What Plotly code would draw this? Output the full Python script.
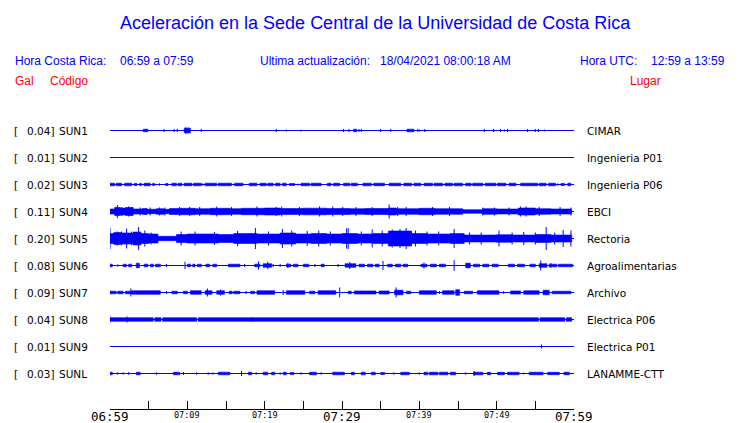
import plotly.graph_objects as go

# ---------------- data ----------------
CODES = ["SUN1", "SUN2", "SUN3", "SUN4", "SUN5", "SUN6", "SUN7", "SUN8", "SUN9", "SUNL"]
PEAKS_GAL = ["0.04", "0.01", "0.02", "0.11", "0.20", "0.08", "0.09", "0.04", "0.01", "0.03"]
PLACES = ["CIMAR", "Ingenieria P01", "Ingenieria P06", "EBCI", "Rectoria",
          "Agroalimentarias", "Archivo", "Electrica P06", "Electrica P01", "LANAMME-CTT"]

TICK_MINUTES = [0, 5, 10, 15, 20, 25, 30, 35, 40, 45, 50, 55, 60]
LABEL_MINUTES = [0, 10, 20, 30, 40, 50, 60]
LABEL_TEXTS = ["06:59", "07:09", "07:19", "07:29", "07:39", "07:49", "07:59"]
LABEL_MAJOR = [True, False, False, True, False, False, True]

# bursts: (start minute, end minute, half amplitude in px of trace)
SUN1_BURSTS = [(4.3, 4.9, 1.3), (9.6, 10.4, 2.3), (31.5, 31.9, 1.3), (38.4, 39.3, 1.3)]
SUN1_SPIKES = [(7.0, 1.5), (8.3, 1.5), (8.7, 1.5), (9.8, 3.3), (10.1, 3.0), (11.8, 1.5),
               (21.5, 1.5), (22.8, 1.0), (24.7, 1.0), (30.2, 1.5), (30.9, 1.5), (32.2, 1.5),
               (32.5, 1.5), (35.0, 1.5), (36.3, 1.5), (39.8, 1.5), (40.0, 1.0), (40.7, 1.5),
               (48.4, 1.5), (49.6, 1.5), (50.5, 1.5), (51.0, 1.0), (51.4, 1.5), (54.0, 1.5),
               (55.0, 1.5), (55.4, 1.5), (56.2, 1.0)]

SUN2_BURSTS = []
SUN2_SPIKES = []

SUN3_BURSTS = [(0.0, 0.6, 1.3), (0.8, 1.5, 1.3), (1.9, 2.8, 1.3), (3.1, 3.5, 1.0), (3.8, 4.1, 1.0),
               (4.4, 5.2, 1.3), (5.5, 5.8, 1.0), (7.2, 7.5, 1.0), (8.0, 8.6, 1.3), (8.8, 9.3, 1.3),
               (9.6, 10.6, 1.3), (10.8, 11.8, 1.3), (12.3, 13.8, 1.3), (14.0, 15.7, 1.3),
               (16.1, 17.2, 1.3), (18.0, 19.0, 1.3), (19.4, 20.2, 1.3), (20.4, 21.1, 1.3),
               (21.4, 22.0, 1.3), (22.3, 22.8, 1.3), (23.2, 23.9, 1.0), (24.7, 25.8, 1.3),
               (26.0, 27.3, 1.3), (28.1, 28.6, 1.3), (28.9, 29.7, 1.3), (30.2, 31.0, 1.3),
               (31.2, 32.0, 1.3), (32.7, 33.8, 1.3), (34.1, 35.5, 1.3), (36.1, 37.6, 1.3),
               (38.0, 39.0, 1.3), (39.3, 40.2, 1.3), (40.6, 41.7, 1.3), (41.9, 43.0, 1.3),
               (43.3, 44.3, 1.3), (44.5, 45.6, 1.3), (46.0, 46.7, 1.3), (46.9, 48.2, 1.3),
               (48.5, 49.9, 1.3), (50.1, 51.2, 1.3), (51.6, 52.5, 1.3), (53.1, 55.3, 1.3),
               (55.5, 56.4, 1.3), (56.7, 57.6, 1.3), (58.3, 58.8, 1.0), (59.2, 59.6, 1.3)]
SUN3_SPIKES = [(6.4, 1.2), (12.0, 1.2), (24.3, 1.0), (50.3, 1.5), (57.9, 1.2)]

SUN4_BURSTS = [(0.0, 0.6, 2.5), (0.6, 1.3, 4.0), (1.3, 2.0, 3.5), (2.0, 3.0, 4.0), (3.0, 4.2, 2.5),
               (4.2, 4.8, 3.0), (4.8, 6.0, 2.2), (6.0, 7.0, 2.8), (7.0, 7.7, 2.2), (7.7, 9.0, 3.0),
               (9.0, 11.0, 3.2), (11.0, 13.0, 2.8), (13.0, 15.5, 3.2), (15.5, 17.0, 2.8),
               (17.0, 20.0, 3.2), (20.0, 22.0, 3.5), (22.0, 25.0, 3.0), (25.0, 28.0, 3.3),
               (28.0, 31.0, 3.0), (31.0, 33.0, 2.8), (33.0, 36.0, 3.0), (36.0, 37.0, 3.5),
               (37.0, 40.0, 2.8), (40.0, 42.0, 3.2), (42.0, 45.6, 2.8), (45.6, 48.2, 1.8),
               (48.2, 50.0, 2.8), (50.0, 52.8, 2.5), (52.8, 55.0, 3.5), (55.0, 57.0, 2.8),
               (57.0, 59.7, 2.5)]
SUN4_SPIKES = [(0.95, 6.5), (1.5, 4.5), (2.4, 5.0), (2.8, 4.5), (3.9, 4.0), (5.2, 4.0), (6.4, 4.0),
               (7.1, 4.0), (9.0, 4.5), (10.3, 4.5), (11.6, 4.5), (13.8, 5.0), (15.7, 4.5),
               (19.0, 5.0), (21.5, 4.5), (22.2, 5.0), (24.5, 4.5), (27.1, 5.0), (28.8, 5.0),
               (30.1, 4.5), (31.8, 4.5), (33.9, 4.5), (36.1, 7.0), (37.2, 4.5), (38.3, 4.5),
               (41.7, 4.5), (43.9, 4.5), (48.2, 4.0), (49.7, 4.0), (51.6, 4.0), (53.1, 5.0),
               (53.8, 5.0), (55.5, 4.5), (58.2, 4.5), (59.6, 4.0)]

SUN5_BURSTS = [(0.0, 0.5, 5.0), (0.5, 1.5, 6.0), (1.5, 3.0, 5.5), (3.0, 4.0, 6.5), (4.0, 5.0, 5.0),
               (5.0, 6.2, 4.5), (6.2, 8.6, 2.2), (8.6, 10.0, 4.0), (10.0, 14.0, 4.5),
               (14.0, 16.0, 4.0), (16.0, 19.0, 5.0), (19.0, 22.0, 4.5), (22.0, 24.0, 5.5),
               (24.0, 26.0, 4.5), (26.0, 28.0, 5.0), (28.0, 30.0, 4.5), (30.0, 32.0, 5.0),
               (32.0, 34.0, 4.5), (34.0, 36.0, 5.0), (36.0, 39.0, 7.5), (39.0, 41.0, 5.0),
               (41.0, 44.0, 4.5), (44.0, 45.8, 5.0), (45.8, 50.0, 3.5), (50.0, 52.0, 3.8),
               (52.0, 55.0, 3.5), (55.0, 57.0, 4.0), (57.0, 59.7, 3.5)]
SUN5_SPIKES = [(0.0, 10.5), (0.95, 7.0), (1.5, 7.0), (2.15, 10.0), (2.8, 7.0), (3.7, 11.5),
               (4.5, 8.0), (5.3, 6.0), (9.2, 7.0), (11.0, 7.0), (13.5, 6.5), (16.5, 7.5),
               (18.8, 10.5), (20.5, 7.0), (22.3, 9.5), (23.5, 8.0), (25.5, 7.5), (27.0, 8.0),
               (28.5, 7.0), (30.6, 10.0), (30.8, 10.5), (32.5, 7.0), (33.9, 9.0), (35.2, 8.0),
               (36.5, 9.0), (37.5, 9.5), (38.3, 10.5), (39.5, 8.0), (41.0, 7.0), (42.5, 7.0),
               (44.5, 9.5), (46.5, 6.0), (48.0, 6.0), (50.3, 8.0), (52.0, 6.0), (53.5, 6.5),
               (55.0, 6.0), (56.4, 11.5), (57.5, 6.0), (58.6, 8.5), (59.6, 8.0)]

SUN6_BURSTS = [(0.0, 0.3, 1.3), (1.7, 2.1, 1.3), (2.4, 2.8, 1.3), (3.4, 3.8, 2.3), (4.4, 4.9, 1.3),
               (5.2, 5.6, 1.3), (5.9, 6.5, 1.3), (10.0, 10.4, 1.3), (10.7, 11.0, 1.3),
               (11.3, 11.8, 1.3), (12.4, 12.9, 1.3), (13.3, 13.8, 1.3), (15.3, 16.8, 1.3),
               (18.7, 19.4, 1.3), (19.8, 20.9, 1.8), (22.8, 23.4, 1.3), (23.7, 24.3, 1.3),
               (25.0, 25.7, 1.3), (27.3, 27.7, 1.3), (30.4, 31.8, 1.8), (32.2, 32.9, 1.3),
               (33.3, 34.0, 1.3), (34.3, 34.8, 1.3), (35.9, 36.5, 1.3), (36.9, 37.6, 1.3),
               (37.9, 38.5, 1.3), (40.2, 41.0, 1.3), (41.4, 42.2, 1.3), (42.6, 43.4, 1.3),
               (46.0, 46.6, 2.3), (47.0, 47.8, 1.3), (48.2, 49.0, 1.3), (49.4, 50.2, 1.3),
               (51.5, 52.3, 1.3), (52.7, 53.6, 1.3), (54.3, 55.0, 1.3), (55.5, 56.5, 1.8),
               (56.8, 57.8, 1.3), (58.0, 59.8, 1.3)]
SUN6_SPIKES = [(1.0, 1.2), (7.3, 1.5), (9.7, 3.7), (17.4, 1.5), (19.2, 4.0), (20.4, 3.7),
               (21.1, 1.5), (22.0, 1.5), (23.0, 2.5), (26.5, 1.5), (29.5, 1.5), (31.0, 3.5),
               (35.3, 4.5), (40.6, 3.0), (44.5, 5.3), (46.3, 2.5), (55.7, 5.0), (57.0, 2.5)]

SUN7_BURSTS = [(0.0, 0.8, 1.3), (1.0, 1.7, 1.3), (2.0, 2.8, 1.3), (2.8, 6.5, 1.8), (8.0, 8.7, 1.3),
               (9.5, 10.0, 1.3), (10.4, 11.8, 1.8), (12.3, 13.2, 1.8), (13.8, 14.8, 1.8),
               (15.4, 15.8, 1.3), (16.0, 16.8, 1.3), (18.2, 18.7, 1.3), (19.0, 21.3, 1.8),
               (22.8, 25.2, 1.8), (25.8, 26.5, 1.3), (26.9, 29.2, 1.8), (30.8, 31.2, 1.3),
               (31.6, 34.4, 1.6), (34.8, 36.1, 1.6), (36.8, 37.9, 2.3), (38.3, 38.9, 1.3),
               (40.0, 42.2, 1.8), (43.0, 44.5, 1.8), (44.7, 45.2, 2.8), (45.8, 46.9, 1.3),
               (47.5, 50.3, 1.8), (51.8, 53.1, 1.6), (53.5, 55.5, 1.8), (56.0, 56.8, 2.3),
               (57.2, 59.6, 1.3)]
SUN7_SPIKES = [(2.7, 4.0), (7.3, 1.5), (12.6, 4.0), (14.3, 3.0), (17.6, 1.5), (22.4, 2.5),
               (29.7, 5.0), (37.0, 5.0), (42.6, 1.5), (50.9, 1.5)]

SUN8_BURSTS = [(0.0, 5.6, 1.8), (5.8, 6.6, 1.8), (6.8, 11.2, 1.8), (11.4, 55.4, 1.8),
               (55.6, 58.8, 1.8), (59.0, 59.7, 1.8)]
SUN8_SPIKES = [(0.0, 3.0), (2.2, 3.0), (18.3, 2.3)]

SUN9_BURSTS = []
SUN9_SPIKES = [(55.8, 2.0)]

SUNL_BURSTS = [(0.0, 0.3, 1.3), (3.4, 3.9, 1.3), (8.2, 9.0, 1.3), (14.0, 15.5, 1.3),
               (17.9, 18.3, 1.3), (19.8, 20.4, 1.3), (20.9, 21.3, 1.3), (22.4, 22.8, 1.3),
               (23.3, 23.8, 1.0), (25.8, 26.7, 1.3), (28.8, 30.3, 1.3), (31.2, 31.6, 1.3),
               (32.5, 33.0, 1.3), (33.8, 34.3, 1.3), (35.0, 35.5, 1.0), (37.6, 38.7, 1.3),
               (40.6, 41.1, 1.3), (41.3, 42.4, 1.3), (42.6, 43.7, 1.3), (44.0, 44.7, 1.3),
               (47.0, 48.2, 1.3), (48.8, 49.2, 1.3), (50.1, 51.0, 1.2), (51.4, 52.9, 1.2),
               (54.2, 56.0, 1.3), (56.6, 58.1, 1.2), (58.7, 59.4, 1.3)]
SUNL_SPIKES = [(1.0, 1.2), (1.7, 1.2), (2.4, 1.2), (6.0, 1.2), (9.5, 1.5), (11.2, 1.2),
               (12.7, 1.2), (13.3, 1.2), (17.0, 2.5), (18.9, 1.2), (22.0, 1.2), (24.7, 1.2),
               (27.3, 1.2), (36.7, 1.2), (40.0, 1.2), (46.0, 1.2), (47.1, 2.5), (53.5, 1.0)]

TRACE_BURSTS = [SUN1_BURSTS, SUN2_BURSTS, SUN3_BURSTS, SUN4_BURSTS, SUN5_BURSTS,
                SUN6_BURSTS, SUN7_BURSTS, SUN8_BURSTS, SUN9_BURSTS, SUNL_BURSTS]
TRACE_SPIKES = [SUN1_SPIKES, SUN2_SPIKES, SUN3_SPIKES, SUN4_SPIKES, SUN5_SPIKES,
                SUN6_SPIKES, SUN7_SPIKES, SUN8_SPIKES, SUN9_SPIKES, SUNL_SPIKES]

# ---------------- layout constants (reference pixel frame) ----------------
W, H = 740, 423
PAGE = 8                                  # default body margin of the html page
PL, PR, PT, PB = 110, 574, 115, 409      # plot area in pixels
PW, PH = PR - PL, PB - PT
ROW0, ROWSTEP = 130.5, 27
BLUE = "#0000ff"
RED = "#ff0000"
SANS = "Liberation Sans, Arial, sans-serif"
DJ = "DejaVu Sans, sans-serif"
MONO = "DejaVu Sans Mono, monospace"


def row_center(i):
    return PB - (ROW0 + ROWSTEP * i)


fig = go.Figure()

for i in range(len(CODES)):
    c = row_center(i)
    fig.add_trace(go.Scatter(x=[0, 60], y=[c, c], mode="lines",
                             line=dict(color=BLUE, width=1), hoverinfo="skip", showlegend=False))
    bx, by = [], []
    for s, e, a in TRACE_BURSTS[i]:
        bx += [s, e, e, s, s, None]
        by += [c + a, c + a, c - a, c - a, c + a, None]
    if bx:
        fig.add_trace(go.Scatter(x=bx, y=by, mode="lines", fill="toself", fillcolor=BLUE,
                                 line=dict(color=BLUE, width=0.6), hoverinfo="skip",
                                 showlegend=False))
    sx, sy = [], []
    for t, a in TRACE_SPIKES[i]:
        sx += [t, t, None]
        sy += [c - a, c + a, None]
    if sx:
        fig.add_trace(go.Scatter(x=sx, y=sy, mode="lines", line=dict(color=BLUE, width=1),
                                 hoverinfo="skip", showlegend=False))


def ann(text, xpx, ypx, size, color, family, xanchor="left", yanchor="middle"):
    return dict(text=text, x=(xpx - PL) / PW, y=(PB - ypx) / PH, xref="paper", yref="paper",
                xanchor=xanchor, yanchor=yanchor, showarrow=False, borderpad=0,
                font=dict(size=size, color=color, family=family))


anns = [
    ann("Aceleración en la Sede Central de la Universidad de Costa Rica", 375, 22.5, 18, BLUE,
        SANS, xanchor="center"),
    ann("Hora Costa Rica:", 14, 61, 12, BLUE, SANS),
    ann("06:59 a 07:59", 119, 61, 12, BLUE, SANS),
    ann("Ultima actualización:", 259, 61, 12, BLUE, SANS),
    ann("18/04/2021 08:00:18 AM", 379, 61, 12, BLUE, SANS),
    ann("Hora UTC:", 579, 61, 12, BLUE, SANS),
    ann("12:59 a 13:59", 650, 61, 12, BLUE, SANS),
    ann("Gal", 14, 81, 12, RED, SANS),
    ann("Código", 49, 81, 12, RED, SANS),
    ann("Lugar", 629, 81, 12, RED, SANS),
]

for i in range(len(CODES)):
    yc = ROW0 + ROWSTEP * i
    anns.append(ann("[", 13, yc, 10.5, "black", DJ))
    anns.append(ann(PEAKS_GAL[i] + "]", 55, yc, 10.5, "black", DJ, xanchor="right"))
    anns.append(ann(CODES[i], 58, yc, 10.5, "black", DJ))
    anns.append(ann(PLACES[i], 586, yc, 10.5, "black", DJ))

for m, txt, major in zip(LABEL_MINUTES, LABEL_TEXTS, LABEL_MAJOR):
    xpx = PL + m / 60 * PW
    if major:
        anns.append(ann(txt, xpx, 416, 12.5, "black", MONO, xanchor="center"))
    else:
        anns.append(ann(txt, xpx, 414.5, 8.5, "black", MONO, xanchor="center"))

fig.update_layout(
    width=W - PAGE, height=H - PAGE,
    margin=dict(l=PL - PAGE, r=W - PR, t=PT - PAGE, b=H - PB, pad=0),
    paper_bgcolor="white", plot_bgcolor="white",
    showlegend=False,
    annotations=anns,
    xaxis=dict(range=[0, 60], tickmode="array", tickvals=TICK_MINUTES, showticklabels=False,
               ticks="inside", ticklen=8, tickwidth=1, tickcolor="black",
               showline=True, linecolor="black", linewidth=1,
               showgrid=False, zeroline=False, fixedrange=True),
    yaxis=dict(range=[0, PH], visible=False, showgrid=False, zeroline=False, fixedrange=True),
)

fig.write_html("out.html", config={"displayModeBar": False})
